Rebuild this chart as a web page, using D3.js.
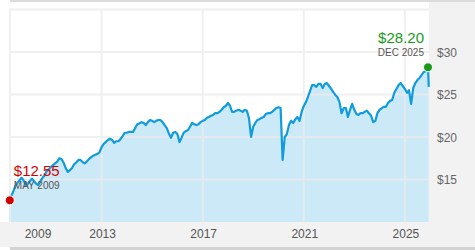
<!DOCTYPE html>
<html>

<head>
  <title>Price history</title>
  <script src="https://d3js.org/d3.v7.min.js" charset="utf-8"></script>
  <style type="text/css">
    body {
      margin: 0;
      background: white;
    }

    text {
      font-family: "Liberation Sans", Arial, Helvetica, sans-serif;
    }
  </style>
</head>

<body>
  <div id="chart"></div>
  <script>
    // monthly closing values, May 2009 -> Dec 2025
    var startMonth = "2009-05";
    var prices = [
      12.55, 13.0, 13.5, 14.2, 14.6, 14.9, 15.2, 14.9,
      14.35, 14.5, 14.8, 15.1, 14.8, 14.5, 14.35, 14.8, 15.2, 15.5, 16.0, 16.2,
      16.5, 16.7, 16.9, 17.1, 17.5, 17.4, 17.0, 16.35, 15.9, 16.1, 16.35, 16.8,
      17.0, 17.3, 17.3, 17.05, 16.9, 17.1, 17.4, 17.6, 17.8, 17.9, 18.0, 18.2,
      18.8, 19.2, 19.4, 19.65, 19.8, 19.65, 19.3, 19.5, 19.5, 19.75, 20.1, 20.5,
      20.5, 20.6, 20.6, 20.6, 21.05, 21.5, 21.6, 21.75, 21.65, 21.4, 21.75, 22.0,
      21.9, 21.75, 21.9, 22.0, 22.0, 21.75, 21.4, 21.05, 20.4, 19.9, 20.5, 20.6,
      20.35, 19.4, 19.9, 20.5, 20.7, 20.8, 21.2, 21.65, 21.5, 21.4, 21.5, 21.75,
      21.9, 22.0, 22.25, 22.35, 22.5, 22.6, 22.8, 22.8, 22.95, 23.2, 23.5, 23.65,
      24.0, 23.65, 22.95, 22.95, 23.1, 23.2, 23.1, 22.95, 23.2, 23.1, 22.2, 20.0,
      21.2, 21.65, 22.0, 22.1, 22.25, 22.35, 22.7, 22.8, 22.8, 22.95, 23.2, 23.4,
      23.5, 23.4, 17.3, 20.0, 20.35, 21.4, 21.9, 21.65, 22.1, 22.35, 21.9, 22.95,
      23.65, 24.1, 24.7, 25.4, 26.1, 26.1, 25.9, 26.25, 26.25, 25.75, 26.25, 26.35,
      26.0, 25.65, 25.3, 24.95, 24.7, 24.1, 22.8, 23.4, 23.4, 22.35, 23.2, 23.9,
      23.2, 22.7, 22.6, 22.8, 22.8, 22.95, 23.1, 22.8, 22.5, 21.75, 21.9, 22.8,
      23.2, 23.4, 23.55, 23.55, 24.0, 24.25, 24.35, 25.2, 25.65, 26.1, 26.35, 26.0,
      25.65, 25.2, 25.5, 23.9, 25.75, 26.35, 26.7, 26.95, 27.3, 27.65, 27.75, 28.2
    ];
    // last daily print after the December close
    var latestDate = "2025-12-12";
    var latestPrice = 25.9;

    var yTicks = [15, 20, 25, 30, 35];
    var yTickLabels = ["$15", "$20", "$25", "$30", ""];
    var xTicks = ["2009", "2013", "2017", "2021", "2025"];

    var startLabel = { price: "$12.55", when: "MAY 2009" };
    var endLabel = { price: "$28.20", when: "DEC 2025" };

    var width = 475;
    var height = 250;
    var plotLeft = 9;
    var plotRight = 429;
    var plotTop = 9.5;
    var plotBottom = 222;

    var parseMonth = d3.timeParse("%Y-%m");
    var parseDay = d3.timeParse("%Y-%m-%d");
    var parseYear = d3.timeParse("%Y");

    var t0 = parseMonth(startMonth);
    var data = prices.map(function(p, i) {
      return { date: d3.timeMonth.offset(t0, i), value: p };
    });
    var first = data[0];
    var last = data[data.length - 1];
    data.push({ date: parseDay(latestDate), value: latestPrice });

    var x = d3.scaleTime()
      .domain([parseYear("2009"), parseMonth("2025-12")])
      .range([0.5, 428]);
    var y = d3.scaleLinear()
      .domain([10, 35])
      .range([plotBottom, plotTop]);

    var svg = d3.select("#chart").append("svg")
      .attr("width", width)
      .attr("height", height);

    // frame pieces
    svg.append("rect").attr("x", 0).attr("y", 0).attr("width", width).attr("height", height).attr("fill", "white");
    svg.append("rect").attr("x", 10).attr("y", 0).attr("width", width - 10).attr("height", 2).attr("fill", "#dcdcdc");
    svg.append("rect").attr("x", plotRight).attr("y", 2).attr("width", width - plotRight).attr("height", 245).attr("fill", "#f2f2f2");
    svg.append("rect").attr("x", 0).attr("y", plotBottom).attr("width", width).attr("height", 25).attr("fill", "#f2f2f2");
    svg.append("rect").attr("x", 10).attr("y", 247).attr("width", width - 10).attr("height", 3).attr("fill", "#d3d3d3");

    var area = d3.area()
      .x(function(d) { return x(d.date); })
      .y0(plotBottom)
      .y1(function(d) { return y(d.value); });

    var line = d3.line()
      .x(function(d) { return x(d.date); })
      .y(function(d) { return y(d.value); });

    svg.append("path")
      .datum(data)
      .attr("fill", "#cce9f7")
      .attr("d", area);

    // grid on top of the fill
    var grid = svg.append("g").attr("stroke", "#ececec").attr("stroke-width", 2).attr("opacity", 0.75);
    grid.selectAll("line.h").data(yTicks).enter().append("line")
      .attr("x1", plotLeft).attr("x2", plotRight)
      .attr("y1", function(d) { return y(d); })
      .attr("y2", function(d) { return y(d); });
    grid.selectAll("line.v").data(xTicks.slice(1)).enter().append("line")
      .attr("x1", function(d) { return x(parseYear(d)); })
      .attr("x2", function(d) { return x(parseYear(d)); })
      .attr("y1", plotTop).attr("y2", plotBottom);
    grid.append("line")
      .attr("x1", plotLeft + 1).attr("x2", plotLeft + 1)
      .attr("y1", plotTop).attr("y2", plotBottom);

    svg.append("path")
      .datum(data)
      .attr("fill", "none")
      .attr("stroke", "#0f9cdc")
      .attr("stroke-width", 2.2)
      .attr("stroke-linejoin", "round")
      .attr("d", line);

    // axis labels
    svg.selectAll("text.ylab").data(yTicks).enter().append("text")
      .attr("class", "ylab")
      .attr("x", 437)
      .attr("y", function(d) { return y(d) + 4.5; })
      .attr("fill", "#666")
      .style("font-size", "12px")
      .text(function(d, i) { return yTickLabels[i]; });

    svg.selectAll("text.xlab").data(xTicks).enter().append("text")
      .attr("class", "xlab")
      .attr("x", function(d) { return Math.max(x(parseYear(d)) + 1, 38); })
      .attr("y", 238)
      .attr("text-anchor", "middle")
      .attr("fill", "#555")
      .style("font-size", "12px")
      .text(function(d) { return d; });

    // start / end markers
    function marker(pt, color, info, anchor) {
      var cx = x(pt.date) + (anchor == "start" ? 1 : 0);
      var cy = y(pt.value);
      var dx = anchor == "start" ? 4 : -4;
      svg.append("circle")
        .attr("cx", cx).attr("cy", cy).attr("r", 4.5)
        .attr("fill", color)
        .attr("stroke", "white").attr("stroke-width", 1);
      svg.append("text")
        .attr("x", cx + dx).attr("y", cy - 24)
        .attr("text-anchor", anchor)
        .attr("fill", color)
        .style("font-size", "15px")
        .text(info.price);
      svg.append("text")
        .attr("x", cx + dx).attr("y", cy - 11.5)
        .attr("text-anchor", anchor)
        .attr("fill", "#555")
        .style("font-size", "10px")
        .text(info.when);
    }

    marker(first, "#d30000", startLabel, "start");
    marker(last, "#1a9a1a", endLabel, "end");
  </script>
</body>

</html>
